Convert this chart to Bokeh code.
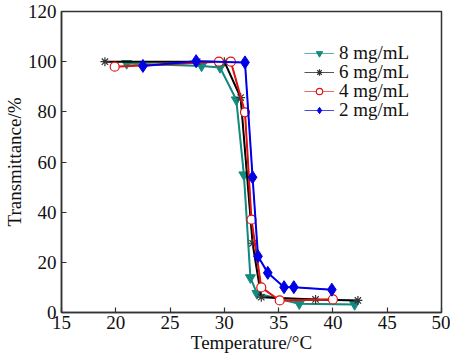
from bokeh.plotting import figure
from bokeh.models import Range1d, FixedTicker, Legend, LegendItem
from bokeh.embed import file_html
from bokeh.resources import INLINE

# Data
t8 = [21.0, 27.9, 29.6, 31.1, 31.8, 32.4, 33.0, 36.9, 42.0]
v8 = [99.3, 98.3, 97.7, 84.8, 54.9, 13.9, 7.6, 3.5, 3.2]

t6 = [19.0, 27.5, 30.0, 31.5, 32.6, 33.4, 38.4, 42.3]
v6 = [100.0, 100.0, 100.0, 85.7, 27.6, 6.1, 5.2, 4.8]

t4 = [19.9, 29.5, 30.6, 31.9, 32.5, 33.4, 35.1, 40.0]
v4 = [98.0, 100.0, 100.0, 79.8, 37.0, 10.0, 4.8, 5.2]

t2 = [22.5, 27.4, 31.9, 32.6, 33.1, 34.0, 35.5, 36.4, 39.9]
v2 = [98.3, 100.2, 99.7, 53.9, 22.4, 15.8, 10.1, 10.1, 9.1]

labels = ["8 mg/mL", "6 mg/mL", "4 mg/mL", "2 mg/mL"]
x_ticks = [15, 20, 25, 30, 35, 40, 45, 50]
y_ticks = [0, 20, 40, 60, 80, 100, 120]
x_title = "Temperature/°C"
y_title = "Transmittance/%"

FONT = "Liberation Serif"
FS = "19px"
TEAL = "#138a7e"
BLACK = "#000000"
RED = "#e01010"
BLUE = "#0000e6"

p = figure(width=450, height=358, output_backend="svg", toolbar_location=None,
           x_range=Range1d(15, 50), y_range=Range1d(0, 120),
           min_border_left=57, min_border_right=9, min_border_top=11, min_border_bottom=46)
p.xgrid.visible = False
p.ygrid.visible = False
p.outline_line_color = "#333333"
p.outline_line_width = 1.5
p.background_fill_color = "white"
p.border_fill_color = "white"

for ax in (p.xaxis[0], p.yaxis[0]):
    ax.axis_line_color = "#333333"
    ax.axis_line_width = 1.5
    ax.major_tick_in = 5
    ax.major_tick_out = 0
    ax.minor_tick_in = 0
    ax.minor_tick_out = 0
    ax.major_tick_line_color = "#333333"
    ax.major_tick_line_width = 1.2
    ax.major_label_text_font = FONT
    ax.major_label_text_font_size = FS
    ax.major_label_text_color = "#111111"
    ax.axis_label_text_font = FONT
    ax.axis_label_text_font_size = FS
    ax.axis_label_text_font_style = "normal"
    ax.axis_label_text_color = "#111111"

p.xaxis.ticker = FixedTicker(ticks=x_ticks)
p.yaxis.ticker = FixedTicker(ticks=y_ticks)
p.xaxis.axis_label = x_title
p.yaxis.axis_label = y_title
p.xaxis.major_label_standoff = 3
p.xaxis.axis_label_standoff = 0
p.yaxis.major_label_standoff = 5
p.yaxis.axis_label_standoff = 0

# thin lines used as legend glyphs (drawn beneath the data lines)
thin = [
    p.line(t8, v8, line_color="#5fb3ab", line_width=1),
    p.line(t6, v6, line_color="#555555", line_width=1),
    p.line(t4, v4, line_color="#ea6a6a", line_width=1),
    p.line(t2, v2, line_color="#4a4ae8", line_width=1),
]

p.line(t8, v8, line_color=TEAL, line_width=2)
m8 = p.scatter(t8, v8, marker="inverted_triangle", size=10, fill_color=TEAL, line_color=TEAL)
p.line(t6, v6, line_color=BLACK, line_width=2)
m6 = p.scatter(t6, v6, marker="asterisk", size=9, line_color="#333333", line_width=1.2)
p.line(t4, v4, line_color=RED, line_width=2)
m4 = p.scatter(t4, v4, marker="circle", size=9, fill_color="white", line_color=RED, line_width=1.2)
p.line(t2, v2, line_color=BLUE, line_width=2)
m2 = p.scatter(t2, v2, marker="diamond", size=13, fill_color=BLUE, line_color=BLUE)

markers = [m8, m6, m4, m2]
legend_y = [248, 229, 210, 191]
for lab, ln, mk, yy in zip(labels, thin, markers, legend_y):
    lg = Legend(items=[LegendItem(label=lab, renderers=[ln, mk])], location=(243, yy))
    lg.border_line_color = None
    lg.background_fill_alpha = 0
    lg.label_text_font = FONT
    lg.label_text_font_size = FS
    lg.label_text_color = "#111111"
    lg.glyph_width = 30
    lg.glyph_height = 16
    lg.label_height = 16
    lg.padding = 0
    lg.margin = 0
    lg.label_standoff = 5
    p.add_layout(lg, "center")

open("out.html", "w").write(file_html(p, INLINE))
